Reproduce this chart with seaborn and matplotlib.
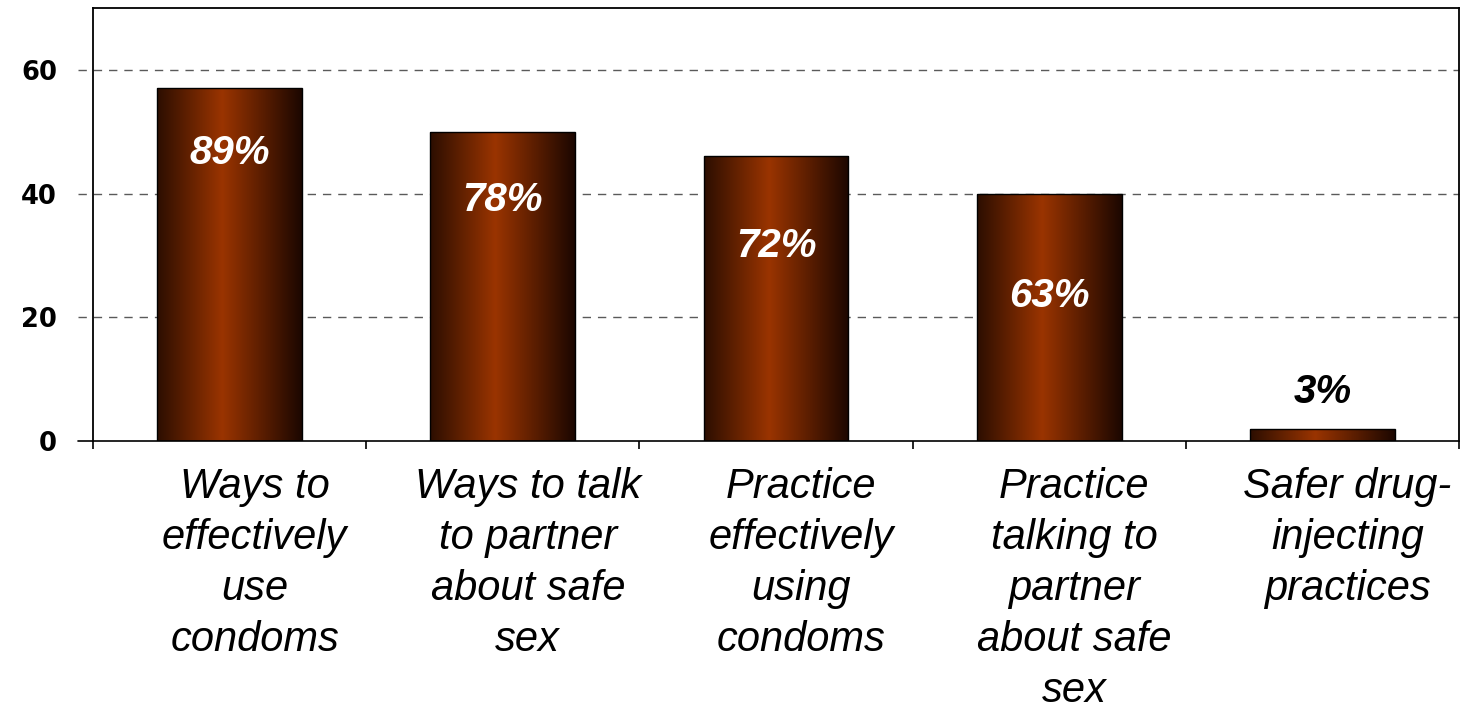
import numpy as np
import pandas as pd
import matplotlib
matplotlib.use("Agg")
import matplotlib.pyplot as plt
import seaborn as sns
from matplotlib.colors import LinearSegmentedColormap
from matplotlib.transforms import ScaledTranslation

# Topics covered and how many respondents named each one
categories = [
    "Ways to\neffectively\nuse\ncondoms",
    "Ways to talk\nto partner\nabout safe\nsex",
    "Practice\neffectively\nusing\ncondoms",
    "Practice\ntalking to\npartner\nabout safe\nsex",
    "Safer drug-\ninjecting\npractices",
]
counts = [57, 50, 46, 40, 2]
percent_labels = ["89%", "78%", "72%", "63%", "3%"]
y_ticks = [0, 20, 40, 60]

# Vertical placement of each percent label relative to its bar top (data units)
label_drop = [10.5, 11.0, 14.5, 16.5, -5.9]

sns.set_theme(style="white")
plt.rcParams["font.family"] = ["Liberation Sans", "DejaVu Sans"]
plt.rcParams["text.color"] = "black"
plt.rcParams["xtick.color"] = "black"
plt.rcParams["ytick.color"] = "black"

df = pd.DataFrame({"topic": categories, "count": counts})

fig = plt.figure(figsize=(14.6, 7.08), dpi=100)
ax = fig.add_axes([93 / 1460, 1 - 441 / 708, 1366 / 1460, 433 / 708])

sns.barplot(data=df, x="topic", y="count", ax=ax, width=0.53,
            color="#8a2e00", edgecolor="black", linewidth=1.0, zorder=3)

# Horizontal shading: dark edges, warm rust centre
cmap = LinearSegmentedColormap.from_list(
    "rust", [(0.0, "#2c0e00"), (0.45, "#9a3400"), (1.0, "#1c0700")])
grad = np.linspace(0, 1, 256).reshape(1, -1)
for patch in list(ax.patches):
    x0, y0 = patch.get_x(), patch.get_y()
    w, h = patch.get_width(), patch.get_height()
    im = ax.imshow(grad, extent=[x0, x0 + w, y0, y0 + h], aspect="auto",
                   cmap=cmap, zorder=2.5, interpolation="bicubic")
    im.set_clip_path(patch)
    patch.set_facecolor("none")

ax.set_xlim(-0.5, 4.5)
ax.set_ylim(0, 70)

# Dashed gridlines reaching slightly past the left spine
for yv in y_ticks[1:]:
    ax.axhline(yv, xmin=-0.011, xmax=1, color="#5a5a5a", lw=1.0,
               ls=(0, (6, 5)), clip_on=False, zorder=1)
ax.axhline(0, xmin=-0.011, xmax=1, color="black", lw=1.2, clip_on=False, zorder=4)

# Percent labels
for i, (v, txt, d) in enumerate(zip(counts, percent_labels, label_drop)):
    inside = d > 0
    ax.text(i, v - d, txt, ha="center", va="center", fontsize=29,
            fontweight="bold", fontstyle="italic",
            color="white" if inside else "black", zorder=5)

# Axes frame
for side in ["left", "top", "right"]:
    ax.spines[side].set_visible(True)
    ax.spines[side].set_color("black")
    ax.spines[side].set_linewidth(1.3)
ax.spines["bottom"].set_visible(False)

ax.set_yticks(y_ticks)
ax.set_yticklabels([str(t) for t in y_ticks], fontsize=18.5, fontweight="bold",
                   family="DejaVu Sans")
ax.tick_params(axis="y", length=0, pad=26)

ax.set_xticks(range(len(categories)))
ax.set_xticklabels(categories, fontsize=30, fontstyle="italic", linespacing=1.35)
ax.set_xticks(np.arange(-0.5, 5, 1), minor=True)
ax.tick_params(axis="x", which="major", length=0, pad=19)
ax.tick_params(axis="x", which="minor", length=6, width=1.2, color="black",
               direction="out", bottom=True)
shift = ScaledTranslation(25 / 100, 0, fig.dpi_scale_trans)
for lab in ax.get_xticklabels():
    lab.set_transform(lab.get_transform() + shift)

ax.set_xlabel("")
ax.set_ylabel("")
ax.grid(False)

fig.savefig("out.png", dpi=100)
